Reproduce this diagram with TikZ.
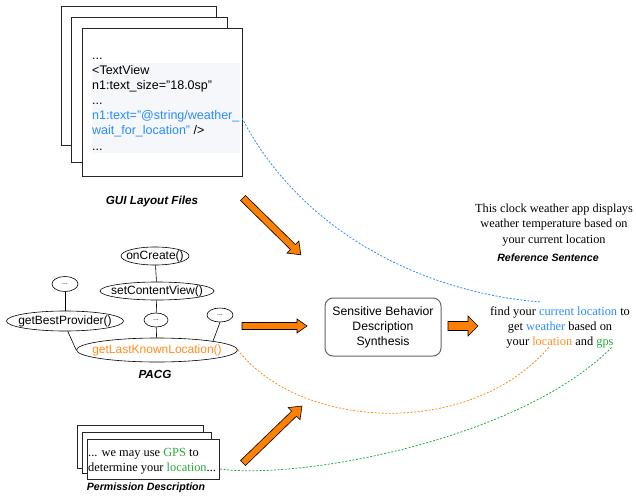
\documentclass[tikz,border=0pt]{standalone}
\usepackage{fontspec}
\setmainfont{Liberation Serif}
\setsansfont{Liberation Sans}
\usetikzlibrary{shapes.geometric}
\definecolor{hlblue}{RGB}{40,140,255}
\definecolor{hlorange}{RGB}{255,140,30}
\definecolor{hlgreen}{RGB}{40,170,60}
\definecolor{arrorange}{RGB}{255,128,0}
\definecolor{codebg}{RGB}{245,247,250}
\tikzset{
  filebox/.style={draw=black!85, line width=0.8pt, fill=white},
  codeline/.style={anchor=base west, inner sep=0, font=\sffamily\fontsize{12.5}{14}\selectfont},
  fn/.style={draw, ellipse, inner sep=0, line width=0.6pt},
  fnlabel/.style={inner sep=0, font=\sffamily\fontsize{12}{14}\selectfont},
  dotlabel/.style={inner sep=0, font=\sffamily\fontsize{7}{8}\selectfont},
  edge/.style={line width=0.6pt},
  title/.style={font=\sffamily\bfseries\itshape\fontsize{11.7}{13}\selectfont, inner sep=0},
  stitle/.style={font=\sffamily\bfseries\itshape\fontsize{10.6}{12}\selectfont, inner sep=0},
  serif/.style={font=\rmfamily\fontsize{12.4}{15}\selectfont, inner sep=0},
  link/.style={line width=0.8pt, dash pattern=on 2pt off 1.6pt},
  arrowstyle/.style={draw=black, line width=0.6pt, fill=arrorange, line join=miter},
  pics/blockarr/.style n args={4}{code={
    \draw[arrowstyle] (0,-#2) -- ({#1-#4},-#2) -- ({#1-#4},-#3) -- (#1,0) -- ({#1-#4},#3) -- ({#1-#4},#2) -- (0,#2) -- cycle;}}
}
\begin{document}
\begin{tikzpicture}[x=1pt,y=-1pt]
\useasboundingbox (0,0) rectangle (636,497);
% GUI layout files
\draw[filebox] (61,6) rectangle (216,145);
\draw[filebox] (71,17) rectangle (227,162);
\draw[filebox] (82,28) rectangle (242,176);
\fill[codebg] (92,63) rectangle (240,153);
\node[codeline] (c1) at (92,60) {...};
\node[codeline] (c2) at (92,75) {<TextView};
\node[codeline] (c3) at (92,90) {n1:text\_size="18.0sp"};
\node[codeline] (c4) at (92,105) {...};
\node[codeline, text=hlblue] (c5) at (92,120) {n1:text="@string/weather\_};
\node[codeline] (c6) at (92,135) {\textcolor{hlblue}{wait\_for\_location"} />};
\node[codeline] (c7) at (92,150) {...};
\node[title] (guit) at (152,201) {GUI Layout Files};
% PACG
\node[fn, minimum width=68, minimum height=18, label={[fnlabel]center:onCreate()}] (oc) at (155,256) {};
\node[fn, minimum width=114, minimum height=18, label={[fnlabel]center:setContentView()}] (scv) at (157,291) {};
\node[fn, minimum width=26, minimum height=15, label={[dotlabel]center:...}] (dL) at (65,284) {};
\node[fn, minimum width=117, minimum height=20, label={[fnlabel]center:getBestProvider()}] (gbp) at (65,321) {};
\node[fn, minimum width=24, minimum height=14, label={[dotlabel]center:...}] (dM) at (156,320) {};
\node[fn, minimum width=26, minimum height=14, label={[dotlabel]center:...}] (dR) at (220,315) {};
\node[fn, minimum width=161, minimum height=24, label={[fnlabel, text=hlorange]center:getLastKnownLocation()}] (gl) at (157,350) {};
\draw[edge] (oc) -- (scv);
\draw[edge] (scv) -- (dM);
\draw[edge] (dM) -- (gl);
\draw[edge] (dL) -- (gbp);
\draw[edge] (gbp.-75) -- (gl.west);
\draw[edge] (dR.south) -- (gl.9);
\node[title] (pacg) at (155,374) {PACG};
% Permission description
\draw[filebox] (77,425) rectangle (203,468);
\draw[filebox] (82,432) rectangle (211,473);
\draw[filebox] (87,439) rectangle (219,479);
\node[serif, anchor=base west] (p1) at (88,456) {... we may use \textcolor{hlgreen}{GPS} to};
\node[serif, anchor=base west] (p2) at (88,471) {determine your \textcolor{hlgreen}{location}...};
\node[stitle] (permt) at (146,488) {Permission Description};
% synthesis box
\node[draw=black!60, line width=1pt, rounded corners=8pt, minimum width=116, minimum height=58, align=center, font=\sffamily\fontsize{12.2}{15}\selectfont] (sb) at (383,327) {Sensitive Behavior\\Description\\Synthesis};
% sentences
\node[serif, align=center, font=\rmfamily\fontsize{12.3}{15.5}\selectfont] (ref) at (554,225) {This clock weather app displays\\weather temperature based on\\your current location};
\node[stitle] (reft) at (548,258) {Reference Sentence};
\node[serif, align=center] (gen) at (560,327) {find your \textcolor{hlblue}{current location} to\\get \textcolor{hlblue}{weather} based on\\your \textcolor{hlorange}{location} and \textcolor{hlgreen}{gps}};
% block arrows
\coordinate (a1) at (243,198);
\coordinate (a2) at (242,326);
\coordinate (a3) at (243,463);
\coordinate (a4) at (448,326);
\pic[rotate=-44.5] at (a1) {blockarr={81}{3.5}{8.5}{11}};
\pic at (a2) {blockarr={65}{3.5}{7}{10}};
\pic[rotate=44] at (a3) {blockarr={82}{3.5}{8.5}{11}};
\pic at (a4) {blockarr={30}{4.5}{10}{10}};
% dashed links
\coordinate (bS) at (242,118);
\coordinate (bE) at (540,302);
\coordinate (oE) at (550,346);
\coordinate (gS) at (220,469);
\coordinate (gE) at (612,347);
\draw[link, hlblue] (bS) .. controls (300,230) and (420,292) .. (bE);
\draw[link, hlorange] (gl.east) .. controls (300,430) and (470,440) .. (oE);
\draw[link, hlgreen] (gS) .. controls (300,480) and (520,440) .. (gE);
\end{tikzpicture}
\end{document}
